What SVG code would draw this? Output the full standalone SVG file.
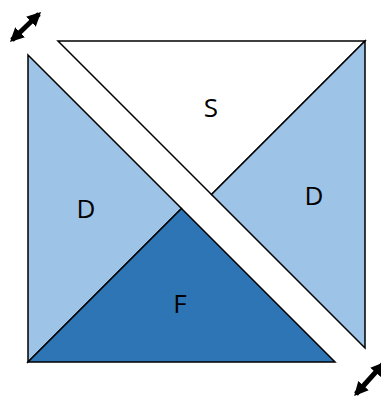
<svg xmlns="http://www.w3.org/2000/svg" width="381" height="398" viewBox="0 0 381 398">
<defs>
<style>
.p{stroke:#000;stroke-width:1.5;stroke-linejoin:miter}
.lt{fill:#9DC3E6}
.dk{fill:#2E75B6}
.w{fill:#fff}
.t{font-family:"Open Sans","Liberation Sans",sans-serif;font-size:26px;fill:#000;text-anchor:middle}
.a{stroke:#000;stroke-width:5;fill:none}
</style>
<marker id="ah" viewBox="0 0 10 10" refX="8" refY="5" markerWidth="2.8" markerHeight="2.8" orient="auto-start-reverse" markerUnits="strokeWidth">
<path d="M0,0 L10,5 L0,10 Z" fill="#000"/>
</marker>
</defs>
<rect width="381" height="398" fill="#fff"/>
<g id="S"><polygon class="p w" points="58,41 365,41 211.5,194.5"/><text class="t" x="211" y="117">S</text></g>
<g id="D-right"><polygon class="p lt" points="365,41 365,348 211.5,194.5"/><text class="t" x="314" y="205">D</text></g>
<g id="D-left"><polygon class="p lt" points="28,55 181.5,208.5 28,362"/><text class="t" x="86" y="218">D</text></g>
<g id="F"><polygon class="p dk" points="28,362 181.5,208.5 335,362"/><text class="t" x="180" y="313">F</text></g>
<g id="connectors">
<line class="a" x1="12" y1="40" x2="39" y2="14" marker-start="url(#ah)" marker-end="url(#ah)"/>
<line class="a" x1="356" y1="394" x2="383" y2="364" marker-start="url(#ah)" marker-end="url(#ah)"/>
</g>
</svg>
